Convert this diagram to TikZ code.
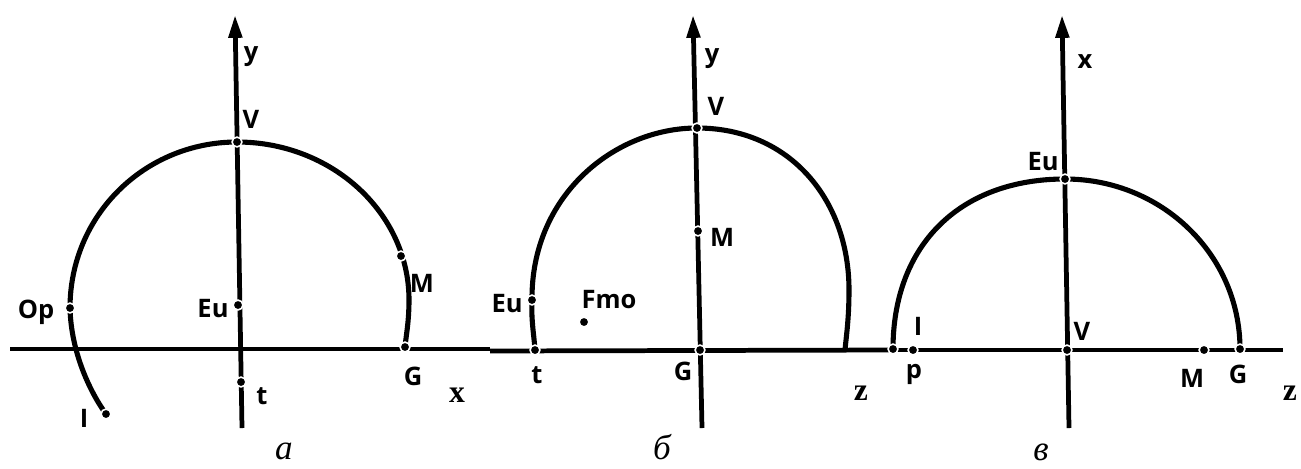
\documentclass[tikz,border=0pt]{standalone}
\usepackage{fontspec}
\setmainfont{Open Sans}
\newfontfamily\serifface{Liberation Serif}
\usetikzlibrary{arrows.meta}
\begin{document}
\begin{tikzpicture}[x=0.02cm,y=-0.02cm,
 axis/.style={line width=2.7pt},
 arr/.style={axis,-{Triangle[length=13pt,width=7.5pt]}},
 curve/.style={line width=2.9pt},
 pt/.style={circle,fill=black,draw=white,line width=0.9pt,minimum size=5.6pt,inner sep=0pt},
 lab/.style={anchor=base,inner sep=0pt,font=\bfseries\fontsize{14.5}{14.5}\selectfont},
 axl/.style={anchor=base,inner sep=0pt,font=\serifface\bfseries\fontsize{18}{18}\selectfont},
 capt/.style={anchor=base,inner sep=0pt,font=\serifface\itshape\fontsize{20}{20}\selectfont}]
\useasboundingbox (0,0) rectangle (1301,468);
% ---------- panel a ----------
\coordinate (a-xl) at (10,349);
\coordinate (a-xr) at (490,349);
\coordinate (a-yb) at (242,428);
\coordinate (a-yt) at (235,15);
\coordinate (a-V) at (237,142);
\coordinate (a-Eu) at (238,305);
\coordinate (a-t) at (241,382);
\coordinate (a-Op) at (70,308);
\coordinate (a-I) at (106,414);
\coordinate (a-M) at (401,256);
\coordinate (a-G) at (405,347);
\coordinate (a-k) at (409,300);
\draw[axis] (a-xl) -- (a-xr);
\draw[arr] (a-yb) -- (a-yt);
\draw[curve] (a-I) .. controls (90,392) and (71,352) .. (a-Op)
  .. controls (70,215) and (145,142) .. (a-V)
  .. controls (332,142) and (409,213) .. (a-k)
  .. controls (409,322) and (406,336) .. (a-G);
\foreach \p in {V,Eu,t,Op,I,M,G} \node[pt] (a-\p-dot) at (a-\p) {};
\node[lab] (a-ylab) at (251,60) {y};
\node[lab] (a-Vlab) at (251,128) {V};
\node[lab] (a-Eulab) at (213,317) {Eu};
\node[lab] (a-tlab) at (262,404) {t};
\node[lab] (a-Oplab) at (36,318) {Op};
\node[lab] (a-Ilab) at (84,427) {I};
\node[lab] (a-Mlab) at (422,292) {M};
\node[lab] (a-Glab) at (413,385) {G};
\node[axl] (a-xlab) at (457,402) {x};
\node[capt] (a-cap) at (284,459) {а};
% ---------- panel b ----------
\coordinate (b-xl) at (490,351);
\coordinate (b-xr) at (893,350);
\coordinate (b-yb) at (702,428);
\coordinate (b-yt) at (693,15);
\coordinate (b-V) at (697,128);
\coordinate (b-M) at (698,231);
\coordinate (b-G) at (700,350);
\coordinate (b-t) at (535,350);
\coordinate (b-Eu) at (532,300);
\coordinate (b-F) at (584,322);
\coordinate (b-k) at (849,290);
\coordinate (b-e) at (845,350);
\draw[axis] (b-xl) -- (b-xr);
\draw[arr] (b-yb) -- (b-yt);
\draw[curve] (b-t) .. controls (534,335) and (531,320) .. (b-Eu)
  .. controls (531,195) and (615,128) .. (b-V)
  .. controls (790,128) and (849,200) .. (b-k)
  .. controls (849,320) and (846,338) .. (b-e);
\foreach \p in {V,M,G,t,Eu,F} \node[pt] (b-\p-dot) at (b-\p) {};
\node[lab] (b-ylab) at (712,62) {y};
\node[lab] (b-Vlab) at (716,115) {V};
\node[lab] (b-Mlab) at (722,246) {M};
\node[lab] (b-Eulab) at (507,312) {Eu};
\node[lab] (b-Flab) at (609,308) {Fmo};
\node[lab] (b-tlab) at (537,383) {t};
\node[lab] (b-Glab) at (683,380) {G};
\node[axl] (b-zlab) at (861,400) {z};
\node[capt] (b-cap) at (662,459) {б};
% ---------- panel c ----------
\coordinate (c-xl) at (893,350);
\coordinate (c-xr) at (1283,350);
\coordinate (c-yb) at (1069,428);
\coordinate (c-yt) at (1062,15);
\coordinate (c-Eu) at (1065,179);
\coordinate (c-V) at (1067,350);
\coordinate (c-L) at (893,349);
\coordinate (c-p) at (913,350);
\coordinate (c-M) at (1204,350);
\coordinate (c-G) at (1240,349);
\draw[axis] (c-xl) -- (c-xr);
\draw[arr] (c-yb) -- (c-yt);
\draw[curve] (c-L) .. controls (893,245) and (960,179) .. (c-Eu)
  .. controls (1162,179) and (1240,255) .. (c-G);
\foreach \p in {Eu,V,L,p,M,G} \node[pt] (c-\p-dot) at (c-\p) {};
\node[lab] (c-xlab) at (1085,68) {x};
\node[lab] (c-Eulab) at (1043,170) {Eu};
\node[lab] (c-Vlab) at (1082,340) {V};
\node[lab] (c-Ilab) at (918,335) {I};
\node[lab] (c-plab) at (914,378) {p};
\node[lab] (c-Mlab) at (1192,387) {M};
\node[lab] (c-Glab) at (1238,383) {G};
\node[axl] (c-zlab) at (1290,400) {z};
\node[capt] (c-cap) at (1041,460) {в};
\end{tikzpicture}
\end{document}
